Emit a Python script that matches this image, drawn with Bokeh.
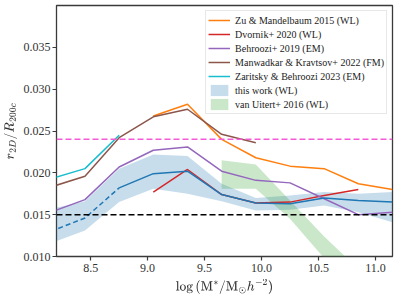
from bokeh.plotting import figure
from bokeh.models import Legend, LegendItem, Range1d, FixedTicker, Span
from bokeh.embed import file_html
from bokeh.resources import INLINE

# x grid of stellar-mass bins
x_all = [8.15, 8.45, 8.75, 9.05, 9.35, 9.65, 9.95, 10.25, 10.55, 10.85, 11.15]

zu_x = [9.05, 9.35, 9.65, 9.95, 10.25, 10.55, 10.85, 11.15]
zu_y = [0.0268, 0.0282, 0.0240, 0.0218, 0.0208, 0.0205, 0.0187, 0.0180]

dv_x = [9.05, 9.35, 9.65, 9.95, 10.25, 10.55, 10.85]
dv_y = [0.0177, 0.0204, 0.0174, 0.0164, 0.0165, 0.0173, 0.0180]

be_x = [8.15, 8.45, 8.75, 9.05, 9.35, 9.65, 9.95, 10.25, 10.55, 10.85, 11.15]
be_y = [0.0153, 0.0168, 0.0207, 0.0227, 0.0231, 0.0202, 0.0191, 0.0188, 0.0169, 0.0150, 0.0153]

mk_x = [8.15, 8.45, 8.75, 9.05, 9.35, 9.65, 9.95]
mk_y = [0.0183, 0.0196, 0.0242, 0.0267, 0.0276, 0.0246, 0.0236]

za_x = [8.15, 8.45, 8.75]
za_y = [0.0193, 0.0205, 0.0245]

tw_x = x_all
tw_y = [0.0130, 0.0146, 0.0182, 0.0199, 0.0202, 0.0174, 0.0164, 0.0163, 0.0170, 0.0167, 0.0165]
tw_lo = [0.0116, 0.0131, 0.0165, 0.0181, 0.0175, 0.0166, 0.0155, 0.0156, 0.0161, 0.0153, 0.0141]
tw_hi = [0.0157, 0.0166, 0.0205, 0.0222, 0.0220, 0.0187, 0.0170, 0.0173, 0.0177, 0.0175, 0.0177]

vu_x = [9.65, 9.95, 10.25, 10.55, 10.85]
vu_lo = [0.0181, 0.0181, 0.0145, 0.0098, 0.0070]
vu_hi = [0.0215, 0.0210, 0.0167, 0.0124, 0.0085]

ref_high = 0.024
ref_low = 0.015

y_ticks = [0.010, 0.015, 0.020, 0.025, 0.030, 0.035]
x_ticks = [8.5, 9.0, 9.5, 10.0, 10.5, 11.0]

FONT = "Liberation Serif"

p = figure(width=399, height=298, output_backend="svg", toolbar_location=None,
           x_range=Range1d(8.2, 11.15), y_range=Range1d(0.010, 0.040),
           min_border_left=55, min_border_right=7, min_border_top=5, min_border_bottom=42)
p.background_fill_color = "white"
p.border_fill_color = "white"
p.grid.visible = False
p.outline_line_color = "#3a3a3a"
p.outline_line_width = 1.3

c_blue = "#1f77b4"
c_orange = "#ff7f0e"
c_red = "#d62728"
c_purple = "#9467bd"
c_brown = "#8c564b"
c_cyan = "#17becf"
c_green = "#2ca02c"

band_tw = p.varea(x=tw_x, y1=tw_lo, y2=tw_hi, fill_color=c_blue, fill_alpha=0.25)
band_vu = p.varea(x=vu_x, y1=vu_lo, y2=vu_hi, fill_color=c_green, fill_alpha=0.25)

p.add_layout(Span(location=ref_high, dimension="width", line_color="#f55ad8",
                  line_dash="6 3", line_width=1.5))
p.add_layout(Span(location=ref_low, dimension="width", line_color="black",
                  line_dash="6 3", line_width=1.5))

lw = 1.5
r_zu = p.line(zu_x, zu_y, line_color=c_orange, line_width=lw)
r_dv = p.line(dv_x, dv_y, line_color=c_red, line_width=lw)
r_be = p.line(be_x, be_y, line_color=c_purple, line_width=lw)
r_mk = p.line(mk_x, mk_y, line_color=c_brown, line_width=lw)
r_za = p.line(za_x, za_y, line_color=c_cyan, line_width=lw)
p.line(tw_x[:3], tw_y[:3], line_color=c_blue, line_width=lw, line_dash="5 3")
p.line(tw_x[2:], tw_y[2:], line_color=c_blue, line_width=lw)

legend = Legend(items=[
    LegendItem(label="Zu & Mandelbaum 2015 (WL)", renderers=[r_zu]),
    LegendItem(label="Dvornik+ 2020 (WL)", renderers=[r_dv]),
    LegendItem(label="Behroozi+ 2019 (EM)", renderers=[r_be]),
    LegendItem(label="Manwadkar & Kravtsov+ 2022 (FM)", renderers=[r_mk]),
    LegendItem(label="Zaritsky & Behroozi 2023 (EM)", renderers=[r_za]),
    LegendItem(label="this work (WL)", renderers=[band_tw]),
    LegendItem(label="van Uitert+ 2016 (WL)", renderers=[band_vu]),
], location="top_right")
legend.label_text_font = FONT
legend.label_text_font_size = "10px"
legend.label_text_color = "#222222"
legend.label_height = 14
legend.glyph_height = 14
legend.glyph_width = 22
legend.spacing = 0
legend.padding = 2
legend.margin = 5
legend.label_standoff = 5
legend.border_line_color = "#d0d0d0"
legend.border_line_width = 1
legend.background_fill_alpha = 0.85
p.add_layout(legend)

for ax in (p.xaxis[0], p.yaxis[0]):
    ax.axis_line_color = None
    ax.major_tick_line_color = "#3a3a3a"
    ax.major_tick_line_width = 1.2
    ax.major_tick_out = 4
    ax.major_tick_in = 0
    ax.minor_tick_line_color = None
    ax.major_label_text_font = FONT
    ax.major_label_text_font_size = "12px"
    ax.major_label_text_color = "#333333"
    ax.axis_label_text_font = FONT
    ax.axis_label_text_font_style = "normal"
    ax.axis_label_text_font_size = "12px"
    ax.axis_label_text_color = "#333333"

p.xaxis.ticker = FixedTicker(ticks=x_ticks)
p.yaxis.ticker = FixedTicker(ticks=y_ticks)
p.xaxis.major_label_overrides = {v: f"{v:.1f}" for v in x_ticks}
p.yaxis.major_label_overrides = {v: f"{v:.3f}" for v in y_ticks}
p.xaxis.axis_label = r"$$\log\,(\mathrm{M}^{*}/\mathrm{M}_{\odot}h^{-2})$$"
p.yaxis.axis_label = r"$$r_{2D}/R_{200c}$$"
p.xaxis.major_label_standoff = 3
p.xaxis.axis_label_standoff = 4
p.yaxis.major_label_standoff = 2
p.yaxis.axis_label_standoff = 3

open("out.html", "w").write(file_html(p, INLINE))
